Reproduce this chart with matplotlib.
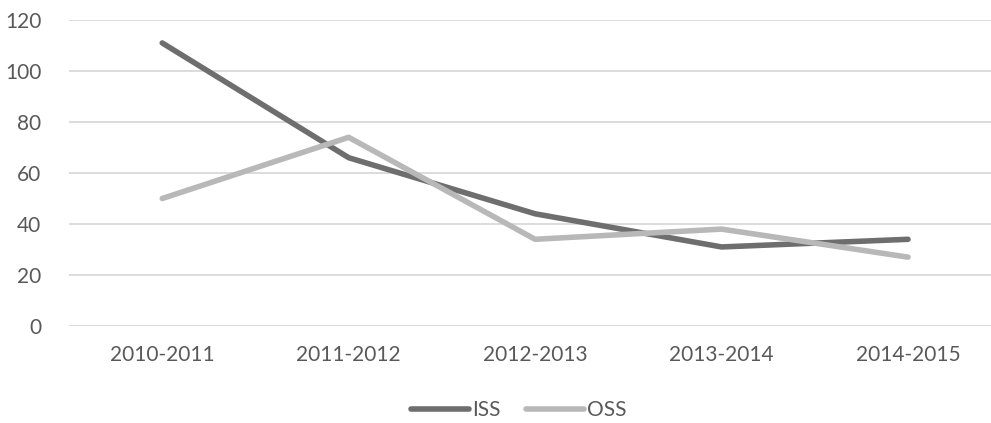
import matplotlib
matplotlib.use('Agg')
import matplotlib.pyplot as plt

# Yearly counts per school type
years = ['2010-2011', '2011-2012', '2012-2013', '2013-2014', '2014-2015']
iss = [111, 66, 44, 31, 34]
oss = [50, 74, 34, 38, 27]

plt.rcParams['font.family'] = ['Lato', 'DejaVu Sans']
text_color = '#595959'

fig = plt.figure(figsize=(9.91, 4.23), dpi=100)
ax = fig.add_axes([69 / 991, 97 / 423, 1 - 69 / 991, 306 / 423])

x = range(len(years))
ax.plot(x, iss, color='#6e6e6e', lw=4, label='ISS', solid_capstyle='round')
ax.plot(x, oss, color='#b8b8b8', lw=4, label='OSS', solid_capstyle='round')

ax.set_xlim(-0.5, 4.445)
ax.set_ylim(0, 120)
ax.set_yticks(range(0, 121, 20))
ax.set_xticks(list(x))
ax.set_xticklabels(years)

ax.grid(axis='y', color='#d9d9d9', lw=1.3)
ax.set_axisbelow(True)
for s in ax.spines.values():
    s.set_visible(False)
ax.tick_params(axis='both', length=0, labelsize=15, colors=text_color)
ax.tick_params(axis='y', pad=20)
ax.tick_params(axis='x', pad=14)

fig.legend(loc='center', bbox_to_anchor=(519 / 991, 1 - 410 / 423), ncol=2,
           frameon=False, fontsize=15, handlelength=2.8, handletextpad=0.15,
           columnspacing=1.2, labelcolor=text_color)

fig.savefig('out.png', dpi=100)
